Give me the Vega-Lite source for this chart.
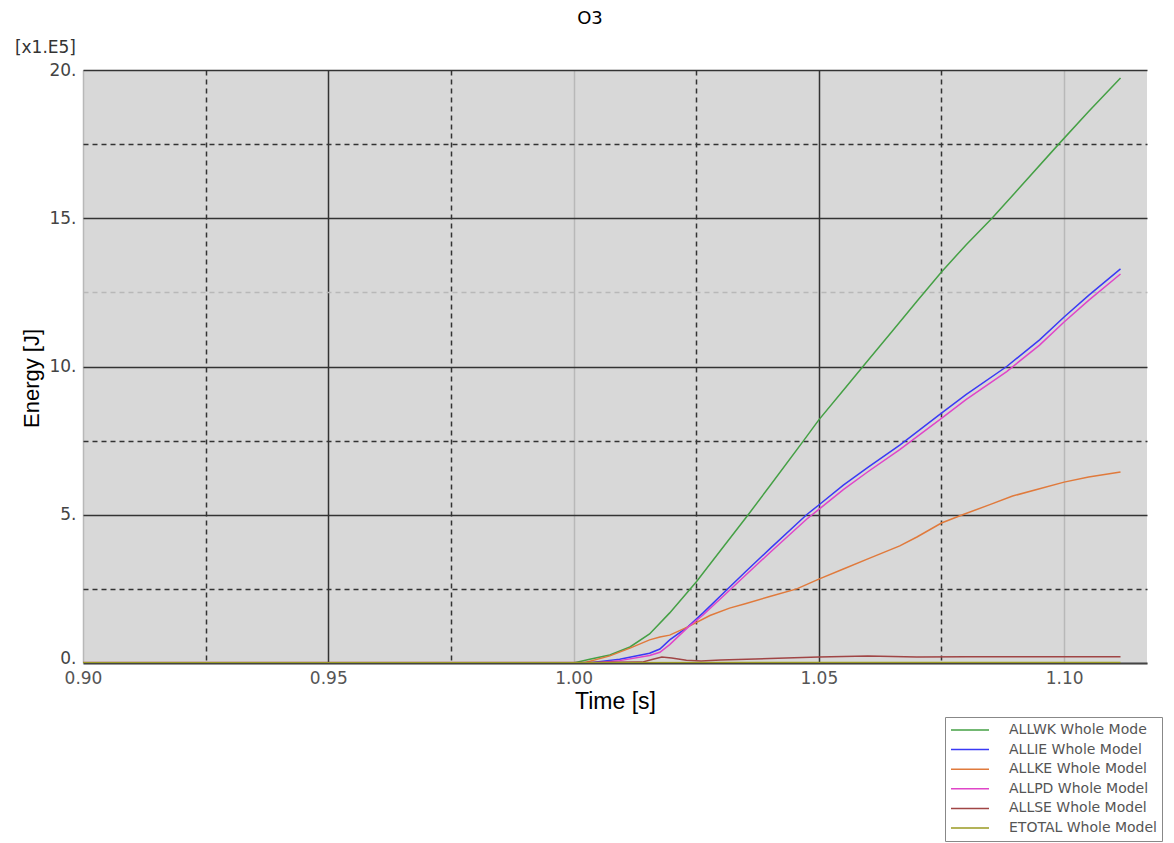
{
  "$schema": "https://vega.github.io/schema/vega-lite/v6.json",
  "width": 1064,
  "height": 593,
  "autosize": {"type": "none"},
  "padding": {"left": 83, "top": 70, "right": 27, "bottom": 180},
  "background": "white",
  "config": {"view": {"fill": "#d8d8d8", "stroke": null}, "font": "DejaVu Sans"},
  "title": {"text": "O3", "fontSize": 18, "font": "DejaVu Sans", "fontWeight": "normal", "color": "#000", "anchor": "middle", "offset": 11, "dx": -25},
  "layer": [
    {
      "data": {"values": [
        {"s": "ALLWK Whole Mode", "t": 0.9, "v": 0},
        {"s": "ALLWK Whole Mode", "t": 1.0, "v": 0},
        {"s": "ALLWK Whole Mode", "t": 1.0033, "v": 0.13},
        {"s": "ALLWK Whole Mode", "t": 1.0074, "v": 0.27},
        {"s": "ALLWK Whole Mode", "t": 1.0115, "v": 0.54},
        {"s": "ALLWK Whole Mode", "t": 1.0155, "v": 0.98},
        {"s": "ALLWK Whole Mode", "t": 1.0196, "v": 1.69},
        {"s": "ALLWK Whole Mode", "t": 1.025, "v": 2.73},
        {"s": "ALLWK Whole Mode", "t": 1.03, "v": 3.8},
        {"s": "ALLWK Whole Mode", "t": 1.0356, "v": 5.0},
        {"s": "ALLWK Whole Mode", "t": 1.04, "v": 5.97},
        {"s": "ALLWK Whole Mode", "t": 1.0469, "v": 7.5},
        {"s": "ALLWK Whole Mode", "t": 1.05, "v": 8.2},
        {"s": "ALLWK Whole Mode", "t": 1.055, "v": 9.2},
        {"s": "ALLWK Whole Mode", "t": 1.06, "v": 10.2},
        {"s": "ALLWK Whole Mode", "t": 1.065, "v": 11.2},
        {"s": "ALLWK Whole Mode", "t": 1.07, "v": 12.2},
        {"s": "ALLWK Whole Mode", "t": 1.075, "v": 13.19},
        {"s": "ALLWK Whole Mode", "t": 1.08, "v": 14.1},
        {"s": "ALLWK Whole Mode", "t": 1.0853, "v": 15.0},
        {"s": "ALLWK Whole Mode", "t": 1.09, "v": 15.86},
        {"s": "ALLWK Whole Mode", "t": 1.0989, "v": 17.5},
        {"s": "ALLWK Whole Mode", "t": 1.105, "v": 18.6},
        {"s": "ALLWK Whole Mode", "t": 1.1115, "v": 19.73},

        {"s": "ALLIE Whole Model", "t": 0.9, "v": 0},
        {"s": "ALLIE Whole Model", "t": 1.003, "v": 0},
        {"s": "ALLIE Whole Model", "t": 1.0094, "v": 0.13},
        {"s": "ALLIE Whole Model", "t": 1.0155, "v": 0.33},
        {"s": "ALLIE Whole Model", "t": 1.0176, "v": 0.47},
        {"s": "ALLIE Whole Model", "t": 1.0196, "v": 0.78},
        {"s": "ALLIE Whole Model", "t": 1.0233, "v": 1.22},
        {"s": "ALLIE Whole Model", "t": 1.0264, "v": 1.69},
        {"s": "ALLIE Whole Model", "t": 1.0312, "v": 2.46},
        {"s": "ALLIE Whole Model", "t": 1.035, "v": 3.07},
        {"s": "ALLIE Whole Model", "t": 1.04, "v": 3.85},
        {"s": "ALLIE Whole Model", "t": 1.0475, "v": 5.0},
        {"s": "ALLIE Whole Model", "t": 1.05, "v": 5.33},
        {"s": "ALLIE Whole Model", "t": 1.055, "v": 6.0},
        {"s": "ALLIE Whole Model", "t": 1.06, "v": 6.6},
        {"s": "ALLIE Whole Model", "t": 1.0665, "v": 7.35},
        {"s": "ALLIE Whole Model", "t": 1.075, "v": 8.43},
        {"s": "ALLIE Whole Model", "t": 1.08, "v": 9.05},
        {"s": "ALLIE Whole Model", "t": 1.0883, "v": 10.0},
        {"s": "ALLIE Whole Model", "t": 1.095, "v": 10.9},
        {"s": "ALLIE Whole Model", "t": 1.1, "v": 11.67},
        {"s": "ALLIE Whole Model", "t": 1.105, "v": 12.4},
        {"s": "ALLIE Whole Model", "t": 1.1115, "v": 13.29},

        {"s": "ALLKE Whole Model", "t": 0.9, "v": 0},
        {"s": "ALLKE Whole Model", "t": 1.002, "v": 0},
        {"s": "ALLKE Whole Model", "t": 1.0074, "v": 0.24},
        {"s": "ALLKE Whole Model", "t": 1.0115, "v": 0.5},
        {"s": "ALLKE Whole Model", "t": 1.0155, "v": 0.78},
        {"s": "ALLKE Whole Model", "t": 1.0176, "v": 0.88},
        {"s": "ALLKE Whole Model", "t": 1.0196, "v": 0.94},
        {"s": "ALLKE Whole Model", "t": 1.0233, "v": 1.22},
        {"s": "ALLKE Whole Model", "t": 1.0278, "v": 1.6},
        {"s": "ALLKE Whole Model", "t": 1.0318, "v": 1.85},
        {"s": "ALLKE Whole Model", "t": 1.035, "v": 2.0},
        {"s": "ALLKE Whole Model", "t": 1.04, "v": 2.24},
        {"s": "ALLKE Whole Model", "t": 1.0455, "v": 2.5},
        {"s": "ALLKE Whole Model", "t": 1.05, "v": 2.83},
        {"s": "ALLKE Whole Model", "t": 1.055, "v": 3.17},
        {"s": "ALLKE Whole Model", "t": 1.06, "v": 3.51},
        {"s": "ALLKE Whole Model", "t": 1.0665, "v": 3.95},
        {"s": "ALLKE Whole Model", "t": 1.07, "v": 4.25},
        {"s": "ALLKE Whole Model", "t": 1.075, "v": 4.72},
        {"s": "ALLKE Whole Model", "t": 1.0793, "v": 5.0},
        {"s": "ALLKE Whole Model", "t": 1.085, "v": 5.35},
        {"s": "ALLKE Whole Model", "t": 1.0895, "v": 5.63},
        {"s": "ALLKE Whole Model", "t": 1.095, "v": 5.88},
        {"s": "ALLKE Whole Model", "t": 1.1, "v": 6.1},
        {"s": "ALLKE Whole Model", "t": 1.105, "v": 6.27},
        {"s": "ALLKE Whole Model", "t": 1.1115, "v": 6.44},

        {"s": "ALLPD Whole Model", "t": 0.9, "v": 0},
        {"s": "ALLPD Whole Model", "t": 1.004, "v": 0},
        {"s": "ALLPD Whole Model", "t": 1.0094, "v": 0.08},
        {"s": "ALLPD Whole Model", "t": 1.0155, "v": 0.25},
        {"s": "ALLPD Whole Model", "t": 1.0176, "v": 0.36},
        {"s": "ALLPD Whole Model", "t": 1.0196, "v": 0.62},
        {"s": "ALLPD Whole Model", "t": 1.0233, "v": 1.2},
        {"s": "ALLPD Whole Model", "t": 1.0264, "v": 1.62},
        {"s": "ALLPD Whole Model", "t": 1.0312, "v": 2.36},
        {"s": "ALLPD Whole Model", "t": 1.035, "v": 2.95},
        {"s": "ALLPD Whole Model", "t": 1.04, "v": 3.72},
        {"s": "ALLPD Whole Model", "t": 1.0475, "v": 4.85},
        {"s": "ALLPD Whole Model", "t": 1.05, "v": 5.18},
        {"s": "ALLPD Whole Model", "t": 1.055, "v": 5.85},
        {"s": "ALLPD Whole Model", "t": 1.06, "v": 6.45},
        {"s": "ALLPD Whole Model", "t": 1.0665, "v": 7.2},
        {"s": "ALLPD Whole Model", "t": 1.075, "v": 8.25},
        {"s": "ALLPD Whole Model", "t": 1.08, "v": 8.88},
        {"s": "ALLPD Whole Model", "t": 1.0883, "v": 9.83},
        {"s": "ALLPD Whole Model", "t": 1.095, "v": 10.72},
        {"s": "ALLPD Whole Model", "t": 1.1, "v": 11.5},
        {"s": "ALLPD Whole Model", "t": 1.105, "v": 12.23},
        {"s": "ALLPD Whole Model", "t": 1.1115, "v": 13.12},

        {"s": "ALLSE Whole Model", "t": 0.9, "v": 0.02},
        {"s": "ALLSE Whole Model", "t": 1.0, "v": 0.02},
        {"s": "ALLSE Whole Model", "t": 1.014, "v": 0.03},
        {"s": "ALLSE Whole Model", "t": 1.016, "v": 0.12},
        {"s": "ALLSE Whole Model", "t": 1.018, "v": 0.2},
        {"s": "ALLSE Whole Model", "t": 1.02, "v": 0.17},
        {"s": "ALLSE Whole Model", "t": 1.023, "v": 0.09},
        {"s": "ALLSE Whole Model", "t": 1.026, "v": 0.07},
        {"s": "ALLSE Whole Model", "t": 1.03, "v": 0.1},
        {"s": "ALLSE Whole Model", "t": 1.04, "v": 0.15},
        {"s": "ALLSE Whole Model", "t": 1.05, "v": 0.2},
        {"s": "ALLSE Whole Model", "t": 1.06, "v": 0.24},
        {"s": "ALLSE Whole Model", "t": 1.07, "v": 0.2},
        {"s": "ALLSE Whole Model", "t": 1.08, "v": 0.21},
        {"s": "ALLSE Whole Model", "t": 1.09, "v": 0.21},
        {"s": "ALLSE Whole Model", "t": 1.1, "v": 0.21},
        {"s": "ALLSE Whole Model", "t": 1.1115, "v": 0.21},

        {"s": "ETOTAL Whole Model", "t": 0.9, "v": 0.01},
        {"s": "ETOTAL Whole Model", "t": 1.0, "v": 0.01},
        {"s": "ETOTAL Whole Model", "t": 1.05, "v": 0.02},
        {"s": "ETOTAL Whole Model", "t": 1.1115, "v": 0.02}
      ]},
      "mark": {"type": "line", "strokeWidth": 1.5, "clip": true},
      "encoding": {
        "x": {
          "field": "t", "type": "quantitative",
          "scale": {"domain": [0.9, 1.1169], "nice": false, "zero": false},
          "axis": {
            "title": "Time [s]",
            "values": [0.9, 0.925, 0.95, 0.975, 1.0, 1.025, 1.05, 1.075, 1.1],
            "labelExpr": "round(datum.value*1000) % 50 == 0 ? format(datum.value, '.2f') : ''",
            "labelOverlap": false,
            "labelFlush": false,
            "labelBound": false,
            "ticks": false,
            "labelPadding": 7,
            "labelFontSize": 17,
            "labelFont": "DejaVu Sans",
            "labelColor": "#555",
            "grid": true,
            "gridWidth": 1.5,
            "gridColor": {"condition": {"test": "round(datum.value*1000) % 100 == 0", "value": "#b8b8b8"}, "value": "#333333"},
            "gridDash": {"condition": {"test": "round(datum.value*1000) % 50 != 0", "value": [5, 4]}, "value": []},
            "domain": true,
            "domainColor": "#444",
            "domainWidth": 2,
            "titleFont": "Liberation Sans",
            "titleFontSize": 23,
            "titleFontWeight": "normal",
            "titleColor": "#000",
            "titleY": 38,
            "titleBaseline": "middle"
          }
        },
        "y": {
          "field": "v", "type": "quantitative",
          "scale": {"domain": [0, 20], "nice": false, "zero": true},
          "axis": {
            "title": "Energy [J]",
            "values": [0, 2.5, 5, 7.5, 10, 12.5, 15, 17.5, 20],
            "labelExpr": "datum.value % 5 == 0 ? format(datum.value, 'd') + '.' : ''",
            "labelOverlap": false,
            "labelBaseline": {"condition": {"test": "datum.value == 0", "value": "alphabetic"}, "value": "middle"},
            "ticks": false,
            "labelPadding": 7,
            "labelFontSize": 17,
            "labelFont": "DejaVu Sans",
            "labelColor": "#444",
            "grid": true,
            "gridWidth": 1.5,
            "gridColor": {"condition": {"test": "datum.value == 12.5 || datum.value == 0", "value": "#b8b8b8"}, "value": "#333333"},
            "gridDash": {"condition": {"test": "datum.value % 5 != 0", "value": [5, 4]}, "value": []},
            "domain": false,
            "titleFont": "Liberation Sans",
            "titleFontSize": 22,
            "titleFontWeight": "normal",
            "titleColor": "#000",
            "titleX": -52,
            "titleY": 308,
            "titleAngle": -90,
            "titleAlign": "center",
            "titleBaseline": "middle"
          }
        },
        "color": {
          "field": "s", "type": "nominal",
          "scale": {
            "domain": ["ALLWK Whole Mode", "ALLIE Whole Model", "ALLKE Whole Model", "ALLPD Whole Model", "ALLSE Whole Model", "ETOTAL Whole Model"],
            "range": ["#45a045", "#3a3af5", "#e07a3c", "#e045c8", "#a04545", "#9a9a22"]
          },
          "legend": {
            "orient": "none",
            "legendX": 862,
            "legendY": 647,
            "title": null,
            "symbolType": "stroke",
            "symbolSize": 1444,
            "symbolStrokeWidth": 1.5,
            "clipHeight": 16,
            "rowPadding": 3.6,
            "padding": 5,
            "labelFontSize": 14,
            "labelFont": "DejaVu Sans",
            "labelColor": "#555",
            "labelOffset": 19,
            "labelLimit": 300,
            "strokeColor": "#888",
            "fillColor": "#ffffff"
          }
        }
      }
    },
    {
      "data": {"values": [{"label": "[x1.E5]"}]},
      "mark": {"type": "text", "align": "right", "baseline": "middle", "dx": -7, "dy": -22, "fontSize": 17, "font": "DejaVu Sans", "color": "#333"},
      "encoding": {
        "x": {"datum": 0.9, "type": "quantitative"},
        "y": {"datum": 20, "type": "quantitative"},
        "text": {"field": "label", "type": "nominal"}
      }
    }
  ]
}
